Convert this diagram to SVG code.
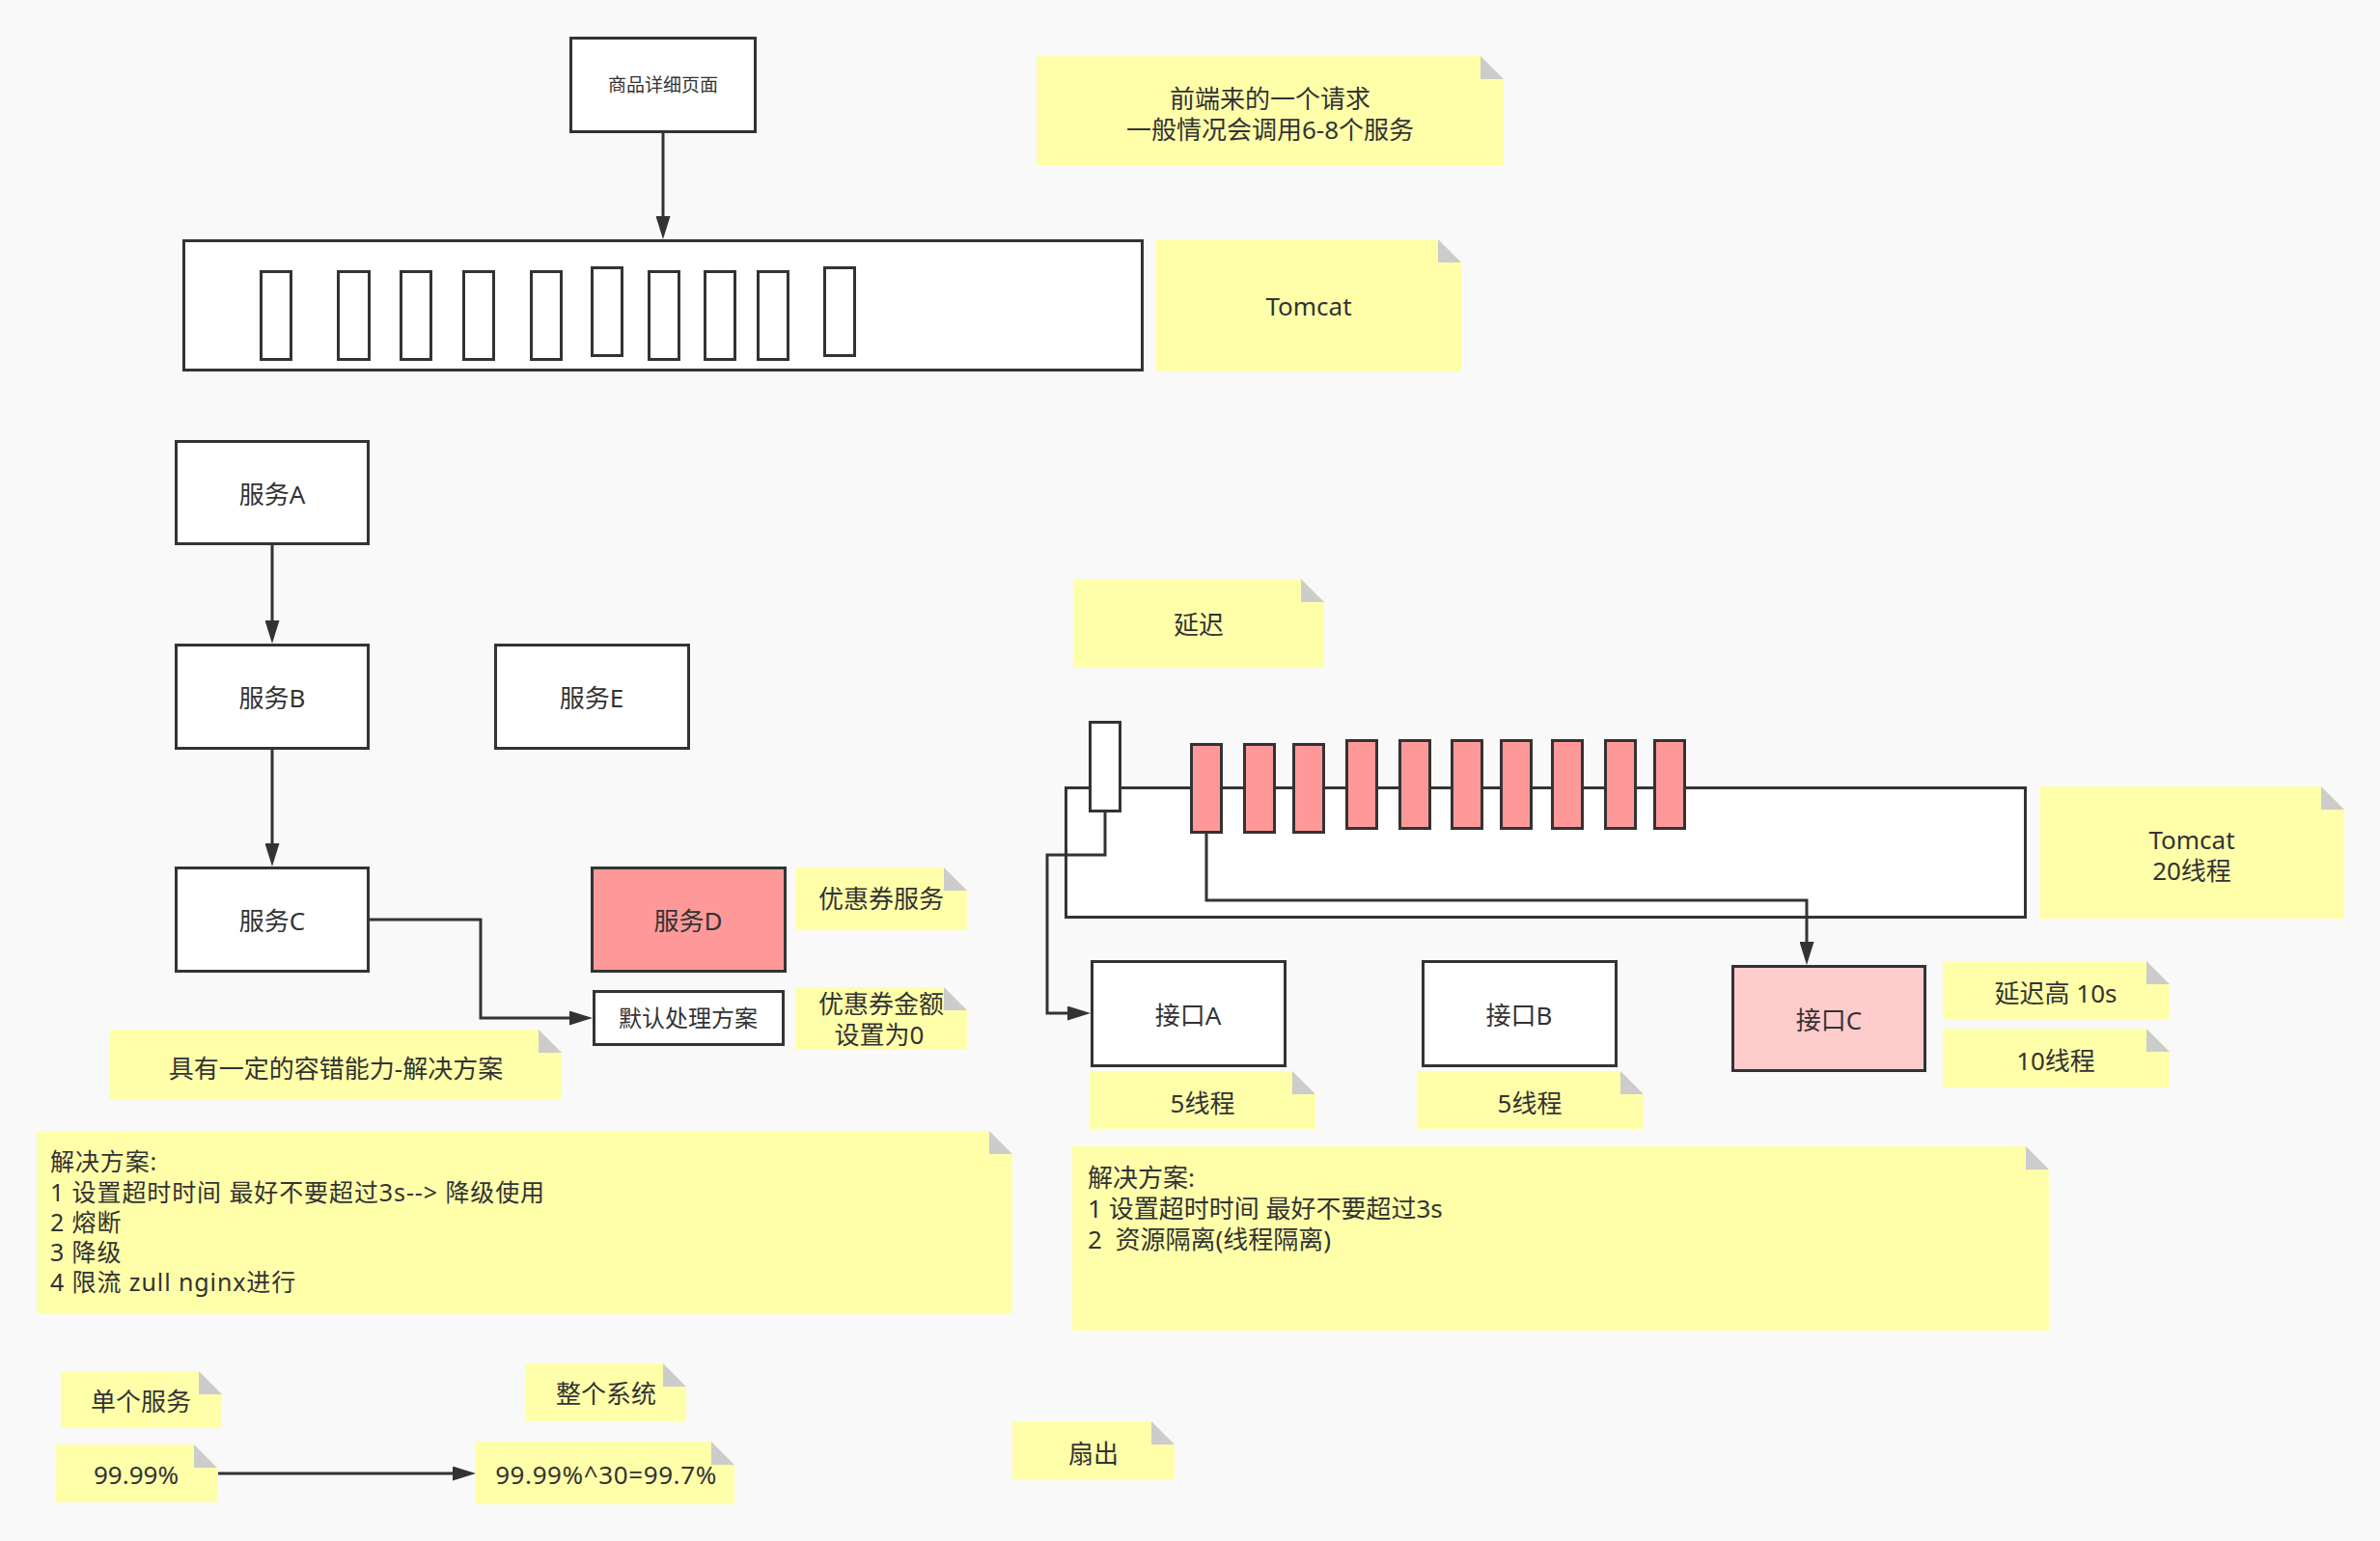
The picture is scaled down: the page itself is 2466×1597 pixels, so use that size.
<svg xmlns="http://www.w3.org/2000/svg" width="2466" height="1597" viewBox="0 0 2466 1597">
<style>
text{font-family:"Noto Sans","Noto Sans CJK SC",sans-serif;fill:#333333;font-size:26px;white-space:pre}
.c{text-anchor:middle}
.s25{font-size:25px;letter-spacing:0.9px}
.box{fill:#ffffff;stroke:#333333;stroke-width:3}
.red{fill:#FF9999;stroke:#333333;stroke-width:3}
.pink{fill:#FFCCCC;stroke:#333333;stroke-width:3}
.note{fill:#FFFFAA;stroke:none}
.fold{fill:#CCCCCC;stroke:none}
.edge{fill:none;stroke:#333333;stroke-width:3}
</style>
<defs>
<marker id="arr" markerUnits="userSpaceOnUse" viewBox="0 0 24 15" markerWidth="24" markerHeight="15" refX="12" refY="7.5" orient="auto">
<path d="M0,0 L24,7.5 L0,15 Z" fill="#333333"/>
</marker>
</defs>
<rect x="0" y="0" width="2466" height="1597" fill="#F9F9F9"/>

<g id="page">
<rect class="box" x="591.5" y="39.5" width="191" height="97"/>
<text class="c" x="687" y="95" style="font-size:19px">商品详细页面</text>
</g>
<g id="tomcat1">
<rect class="box" x="190.5" y="249.5" width="993" height="134"/>
<rect class="box" x="270.5" y="281.5" width="31" height="91"/>
<rect class="box" x="350.5" y="281.5" width="32" height="91"/>
<rect class="box" x="415.5" y="281.5" width="31" height="91"/>
<rect class="box" x="480.5" y="281.5" width="31" height="91"/>
<rect class="box" x="550.5" y="281.5" width="31" height="91"/>
<rect class="box" x="613.5" y="277.5" width="31" height="91"/>
<rect class="box" x="672.5" y="281.5" width="31" height="91"/>
<rect class="box" x="730.5" y="281.5" width="31" height="91"/>
<rect class="box" x="785.5" y="281.5" width="31" height="91"/>
<rect class="box" x="854.5" y="277.5" width="31" height="91"/>
</g>
<g id="note-request">
<path class="note" d="M1074,58 H1534 L1558,82 V171 H1074 Z"/>
<path class="fold" d="M1534,58 V82 H1558 Z"/>
<text class="c" x="1316" y="111.5">前端来的一个请求</text>
<text class="c" x="1316" y="143.5">一般情况会调用6-8个服务</text>
</g>
<g id="note-tomcat1">
<path class="note" d="M1198,248 H1490 L1514,272 V385 H1198 Z"/>
<path class="fold" d="M1490,248 V272 H1514 Z"/>
<text class="c" x="1356" y="327">Tomcat</text>
</g>

<g id="svcA">
<rect class="box" x="182.5" y="457.5" width="199" height="106"/>
<text class="c" x="282" y="522">服务A</text>
</g>
<g id="svcB">
<rect class="box" x="182.5" y="668.5" width="199" height="107"/>
<text class="c" x="282" y="733">服务B</text>
</g>
<g id="svcE">
<rect class="box" x="513.5" y="668.5" width="200" height="107"/>
<text class="c" x="613" y="733">服务E</text>
</g>
<g id="svcC">
<rect class="box" x="182.5" y="899.5" width="199" height="107"/>
<text class="c" x="282" y="964">服务C</text>
</g>
<g id="svcD">
<rect class="red" x="613.5" y="899.5" width="200" height="107"/>
<text class="c" x="713" y="964">服务D</text>
</g>
<g id="fallback">
<rect class="box" x="615.5" y="1027.5" width="196" height="55"/>
<text class="c" x="713" y="1064" style="font-size:24px">默认处理方案</text>
</g>
<g id="note-coupon">
<path class="note" d="M824,899 H978 L1002,923 V964 H824 Z"/>
<path class="fold" d="M978,899 V923 H1002 Z"/>
<text class="c" x="913" y="941">优惠券服务</text>
</g>
<g id="note-coupon0">
<path class="note" d="M824,1023 H978 L1002,1047 V1088 H824 Z"/>
<path class="fold" d="M978,1023 V1047 H1002 Z"/>
<text class="c" x="913" y="1049.5">优惠券金额</text>
<text class="c" x="911" y="1081.5">设置为0</text>
</g>
<g id="note-fault">
<path class="note" d="M113,1067 H558 L582,1091 V1140 H113 Z"/>
<path class="fold" d="M558,1067 V1091 H582 Z"/>
<text class="c" x="348" y="1117">具有一定的容错能力-解决方案</text>
</g>
<g id="note-solution1">
<path class="note" d="M38,1172 H1025 L1049,1196 V1362 H38 Z"/>
<path class="fold" d="M1025,1172 V1196 H1049 Z"/>
<text class="s25" x="52" y="1213">解决方案:</text>
<text class="s25" x="52" y="1245">1 设置超时时间 最好不要超过3s--&gt; 降级使用</text>
<text class="s25" x="52" y="1276">2 熔断</text>
<text class="s25" x="52" y="1307">3 降级</text>
<text class="s25" x="52" y="1338">4 限流 zull nginx进行</text>
</g>
<g id="note-single">
<path class="note" d="M63,1421 H206 L230,1445 V1480 H63 Z"/>
<path class="fold" d="M206,1421 V1445 H230 Z"/>
<text class="c" x="146" y="1462">单个服务</text>
</g>
<g id="note-system">
<path class="note" d="M544,1413 H687 L711,1437 V1473 H544 Z"/>
<path class="fold" d="M687,1413 V1437 H711 Z"/>
<text class="c" x="628" y="1454">整个系统</text>
</g>
<g id="note-9999">
<path class="note" d="M58,1497 H201 L225,1521 V1557 H58 Z"/>
<path class="fold" d="M201,1497 V1521 H225 Z"/>
<text class="c" x="141" y="1538">99.99%</text>
</g>
<g id="note-pow">
<path class="note" d="M493,1494 H737 L761,1518 V1559 H493 Z"/>
<path class="fold" d="M737,1494 V1518 H761 Z"/>
<text class="c" x="628" y="1538" style="letter-spacing:0.6px">99.99%^30=99.7%</text>
</g>
<g id="note-fanout">
<path class="note" d="M1049,1473 H1193 L1217,1497 V1533 H1049 Z"/>
<path class="fold" d="M1193,1473 V1497 H1217 Z"/>
<text class="c" x="1133" y="1516">扇出</text>
</g>

<g id="note-delay">
<path class="note" d="M1112,600 H1348 L1372,624 V692 H1112 Z"/>
<path class="fold" d="M1348,600 V624 H1372 Z"/>
<text class="c" x="1242" y="657">延迟</text>
</g>
<g id="tomcat2">
<rect class="box" x="1104.5" y="816.5" width="994" height="134"/>
<rect class="box" x="1129.5" y="748.5" width="31" height="92"/>
<rect class="red" x="1234.5" y="771.5" width="31" height="91"/>
<rect class="red" x="1289.5" y="771.5" width="31" height="91"/>
<rect class="red" x="1340.5" y="771.5" width="31" height="91"/>
<rect class="red" x="1395.5" y="767.5" width="31" height="91"/>
<rect class="red" x="1450.5" y="767.5" width="31" height="91"/>
<rect class="red" x="1504.5" y="767.5" width="31" height="91"/>
<rect class="red" x="1555.5" y="767.5" width="31" height="91"/>
<rect class="red" x="1608.5" y="767.5" width="31" height="91"/>
<rect class="red" x="1663.5" y="767.5" width="31" height="91"/>
<rect class="red" x="1714.5" y="767.5" width="31" height="91"/>
</g>
<g id="note-tomcat2">
<path class="note" d="M2113,815 H2405 L2429,839 V952 H2113 Z"/>
<path class="fold" d="M2405,815 V839 H2429 Z"/>
<text class="c" x="2271" y="880">Tomcat</text>
<text class="c" x="2271" y="912">20线程</text>
</g>
<g id="ifA">
<rect class="box" x="1131.5" y="996.5" width="200" height="108"/>
<text class="c" x="1231" y="1062">接口A</text>
</g>
<g id="ifB">
<rect class="box" x="1474.5" y="996.5" width="200" height="108"/>
<text class="c" x="1574" y="1062">接口B</text>
</g>
<g id="ifC">
<rect class="pink" x="1795.5" y="1001.5" width="199" height="108"/>
<text class="c" x="1895" y="1067">接口C</text>
</g>
<g id="note-delay10">
<path class="note" d="M2013,996 H2224 L2248,1020 V1057 H2013 Z"/>
<path class="fold" d="M2224,996 V1020 H2248 Z"/>
<text class="c" x="2130" y="1039">延迟高 10s</text>
</g>
<g id="note-10t">
<path class="note" d="M2013,1066 H2224 L2248,1090 V1127 H2013 Z"/>
<path class="fold" d="M2224,1066 V1090 H2248 Z"/>
<text class="c" x="2130" y="1109">10线程</text>
</g>
<g id="note-5tA">
<path class="note" d="M1129,1110 H1339 L1363,1134 V1170 H1129 Z"/>
<path class="fold" d="M1339,1110 V1134 H1363 Z"/>
<text class="c" x="1246" y="1153">5线程</text>
</g>
<g id="note-5tB">
<path class="note" d="M1468,1110 H1679 L1703,1134 V1170 H1468 Z"/>
<path class="fold" d="M1679,1110 V1134 H1703 Z"/>
<text class="c" x="1585" y="1153">5线程</text>
</g>
<g id="note-solution2">
<path class="note" d="M1111,1188 H2099 L2123,1212 V1379 H1111 Z"/>
<path class="fold" d="M2099,1188 V1212 H2123 Z"/>
<text x="1127" y="1229.5">解决方案:</text>
<text x="1127" y="1261.5">1 设置超时时间 最好不要超过3s</text>
<text x="1127" y="1293.5">2  资源隔离(线程隔离)</text>
</g>

<g id="connectors">
<path class="edge" d="M687,138 V236" marker-end="url(#arr)"/>
<path class="edge" d="M282,565 V655" marker-end="url(#arr)"/>
<path class="edge" d="M282,777 V886" marker-end="url(#arr)"/>
<path class="edge" d="M383,953 H498 V1055 H602" marker-end="url(#arr)"/>
<path class="edge" d="M226,1527 H481" marker-end="url(#arr)"/>
<path class="edge" d="M1145,842 V886 H1085 V1050 H1118" marker-end="url(#arr)"/>
<path class="edge" d="M1250,864 V933 H1872 V988" marker-end="url(#arr)"/>
</g>
</svg>
